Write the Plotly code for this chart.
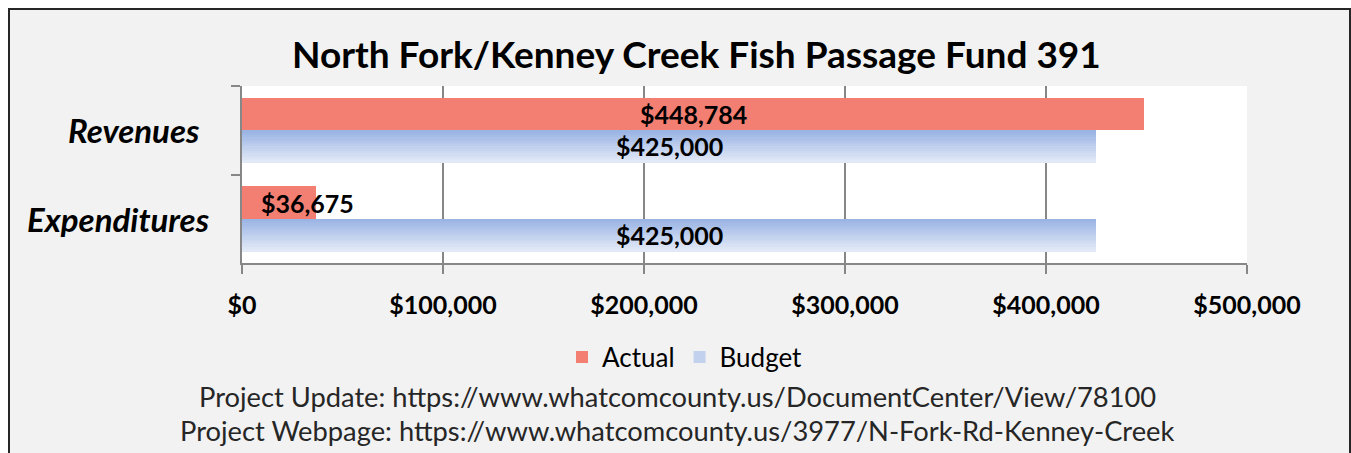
import plotly.graph_objects as go

# Fund 391 summary values
categories = ["Revenues", "Expenditures"]
actual = [448784, 36675]
budget = [425000, 425000]
x_ticks = [0, 100000, 200000, 300000, 400000, 500000]
x_tick_text = ["$0", "$100,000", "$200,000", "$300,000", "$400,000", "$500,000"]

title_text = "North Fork/Kenney Creek Fish Passage Fund 391"
footer_lines = [
    "Project Update: https://www.whatcomcounty.us/DocumentCenter/View/78100",
    "Project Webpage: https://www.whatcomcounty.us/3977/N-Fork-Rd-Kenney-Creek",
]

FONT = "Lato"
ACTUAL_COLOR = "#F27F71"
GRAD_TOP = (154, 180, 228)
GRAD_BOTTOM = (226, 233, 246)
BAR_W = 0.367  # each bar's thickness in category units

W, H = 1351, 453
L, R, T, B = 242, 104, 86, 190
PW, PH = W - L - R, H - T - B


def px_x(p):
    return (p - L) / PW


def px_y(p):
    return (H - B - p) / PH


fig = go.Figure()

# Actual bars sit in the upper half of each category band
fig.add_trace(go.Bar(
    y=categories, x=actual, orientation="h", name="Actual",
    marker=dict(color=ACTUAL_COLOR, line=dict(width=0)),
    width=BAR_W, offset=-BAR_W, hoverinfo="x+y",
))

# Budget bars: a vertical light-blue gradient built from thin overlaid slices
N = 14
for i in range(N):
    t = i / (N - 1)
    c = tuple(round(a + (b - a) * t) for a, b in zip(GRAD_TOP, GRAD_BOTTOM))
    fig.add_trace(go.Bar(
        y=categories, x=budget, orientation="h", name="Budget",
        marker=dict(color="rgb(%d,%d,%d)" % c, line=dict(width=0)),
        width=BAR_W / N * 1.15, offset=BAR_W * i / N,
        showlegend=(i == N // 2), legendgroup="budget", hoverinfo="x+y",
    ))

annotations = []
# Value labels
label_font = dict(family=FONT, size=25, color="#000000", weight="bold")
half = BAR_W / 2 * PH / 2
for cat, a, b in zip(categories, actual, budget):
    if a > 150000:
        annotations.append(dict(x=a / 2, y=cat, yshift=half, text="$%s" % format(a, ","),
                                xanchor="center", yanchor="middle",
                                showarrow=False, font=label_font, xref="x", yref="y"))
    else:
        annotations.append(dict(x=0, y=cat, xshift=17, yshift=half, xanchor="left", yanchor="middle",
                                text="$%s" % format(a, ","),
                                showarrow=False, font=label_font, xref="x", yref="y"))
    annotations.append(dict(x=b / 2, y=cat, yshift=-half, text="$%s" % format(b, ","),
                            xanchor="center", yanchor="middle",
                            showarrow=False, font=label_font, xref="x", yref="y"))

# Category labels on the left, right-aligned next to the axis
cat_font = dict(family=FONT, size=33, color="#000000", weight="bold", style="italic")
for cat, right_edge in zip(categories, [201, 211]):
    annotations.append(dict(x=px_x(right_edge), y=cat, xref="paper", yref="y", text=cat,
                            xanchor="right", yanchor="middle", showarrow=False, font=cat_font))

# Title and footer
annotations.append(dict(x=px_x(696), y=px_y(53), xref="paper", yref="paper", text="<b>%s</b>" % title_text,
                        xanchor="center", yanchor="middle",
                        showarrow=False, font=dict(family=FONT, size=37, color="#000000")))
for line, yp in zip(footer_lines, [396, 430]):
    annotations.append(dict(x=px_x(677), y=px_y(yp), xref="paper", yref="paper", text=line,
                            xanchor="center", yanchor="middle",
                            showarrow=False, font=dict(family=FONT, size=27.3, color="#262626")))

shapes = [
    # grey chart panel with dark border
    dict(type="rect", xref="paper", yref="paper", layer="below",
         x0=px_x(9), x1=px_x(1350), y0=px_y(470), y1=px_y(9),
         fillcolor="#F2F2F2", line=dict(color="#262626", width=2)),
    # white plotting area
    dict(type="rect", xref="paper", yref="paper", layer="below",
         x0=0, x1=1, y0=0, y1=1, fillcolor="#FFFFFF", line=dict(width=0)),
]

fig.update_layout(
    width=W, height=H,
    margin=dict(l=L, r=R, t=T, b=B, pad=0),
    paper_bgcolor="#FFFFFF", plot_bgcolor="#FFFFFF",
    barmode="overlay", bargap=0,
    showlegend=True,
    legend=dict(orientation="h", x=px_x(685), xanchor="center", y=px_y(357), yanchor="middle",
                font=dict(family=FONT, size=26, color="#000000"), bgcolor="rgba(0,0,0,0)",
                traceorder="normal", itemwidth=30),
    annotations=annotations, shapes=shapes,
    font=dict(family=FONT),
)

fig.update_xaxes(
    range=[0, 500000], tickvals=x_ticks, ticktext=x_tick_text,
    showgrid=True, gridcolor="#878787", gridwidth=2,
    showline=True, linecolor="#878787", linewidth=2,
    ticks="outside", ticklen=9, tickwidth=2, tickcolor="#878787",
    ticklabelstandoff=10,
    tickfont=dict(family=FONT, size=25, color="#000000", weight="bold"),
    zeroline=False, fixedrange=True,
)
fig.update_yaxes(
    type="category", categoryorder="array", categoryarray=categories, autorange="reversed",
    showgrid=False, showline=True, linecolor="#878787", linewidth=2,
    ticks="outside", ticklen=9, tickwidth=2, tickcolor="#878787", tickson="boundaries",
    showticklabels=False,
    fixedrange=True,
)

fig.write_html("out.html")
